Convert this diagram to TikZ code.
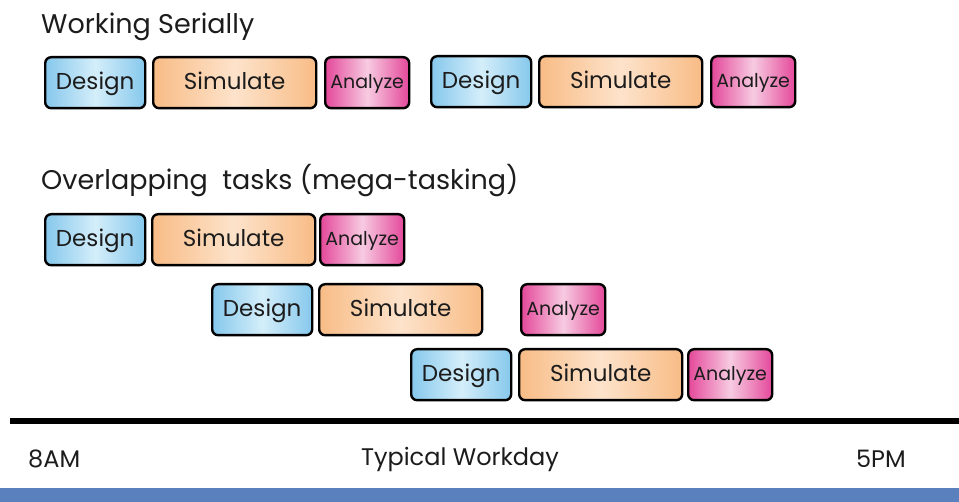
\documentclass[tikz,border=0pt]{standalone}
\usepackage{fontspec}
\setmainfont{Poppins}
\usetikzlibrary{positioning}
\definecolor{dsgnblue}{HTML}{86C8EC}
\definecolor{dsgnlight}{HTML}{D4EEFA}
\definecolor{simorange}{HTML}{F8BC86}
\definecolor{simlight}{HTML}{FDE3CB}
\definecolor{anapink}{HTML}{E4489A}
\definecolor{analight}{HTML}{F7CBE1}
\definecolor{barblue}{HTML}{5A80BD}
\definecolor{inkdark}{HTML}{1C1C1C}
\tikzset{task/.style={draw=black, line width=2.4pt, rounded corners=6pt,
    inner sep=0pt, minimum height=51pt, anchor=north west, text=inkdark,
    text height=17pt, text depth=3pt},
  design/.style={task, minimum width=100pt, left color=dsgnblue,
    right color=dsgnblue, middle color=dsgnlight, font=\fontsize{23}{23}\selectfont},
  simulate/.style={task, minimum width=163pt, left color=simorange,
    right color=simorange, middle color=simlight, font=\fontsize{23}{23}\selectfont},
  analyze/.style={task, minimum width=84pt, left color=anapink,
    right color=anapink, middle color=analight, font=\fontsize{19}{19}\selectfont,
    text height=14pt, text depth=2pt},
  heading/.style={anchor=west, inner sep=0pt, text=inkdark, font=\fontsize{27}{27}\selectfont},
  timelabel/.style={inner sep=0pt, text=inkdark, font=\fontsize{24}{24}\selectfont}}

\begin{document}
\begin{tikzpicture}[x=1pt,y=-1pt]
    \useasboundingbox (0,0) rectangle (959,502);

    % serial
    \node[heading] (serial) at (41,27) {Working Serially};
    \node[design]   (d1) at (44,56)  {Design};
    \node[simulate] (s1) at (152,56) {Simulate};
    \node[analyze]  (a1) at (324,56) {Analyze};
    \node[design]   (d2) at (430,55) {Design};
    \node[simulate] (s2) at (538,55) {Simulate};
    \node[analyze]  (a2) at (710,55) {Analyze};

    % overlapping
    \node[heading] (overlap) at (41,181) {Overlapping\ \ tasks (mega-tasking)};
    \node[design]   (d3) at (44,213)  {Design};
    \node[simulate] (s3) at (151,213) {Simulate};
    \node[analyze]  (a3) at (319,213) {Analyze};

    \node[design]   (d4) at (211,283) {Design};
    \node[simulate] (s4) at (318,283) {Simulate};
    \node[analyze]  (a4) at (520,283) {Analyze};

    \node[design]   (d5) at (410,348) {Design};
    \node[simulate] (s5) at (518,348) {Simulate};
    \node[analyze]  (a5) at (687,348) {Analyze};

    % time axis
    \draw[line width=6pt] (10,421) -- (959,421);
    \node[timelabel, anchor=west] (start) at (28,459) {8AM};
    \node[timelabel] (workday) at (460,459) {Typical Workday};
    \node[timelabel, anchor=east] (end) at (906,459) {5PM};
    \fill[barblue] (0,488) rectangle (959,502);
\end{tikzpicture}
\end{document}
